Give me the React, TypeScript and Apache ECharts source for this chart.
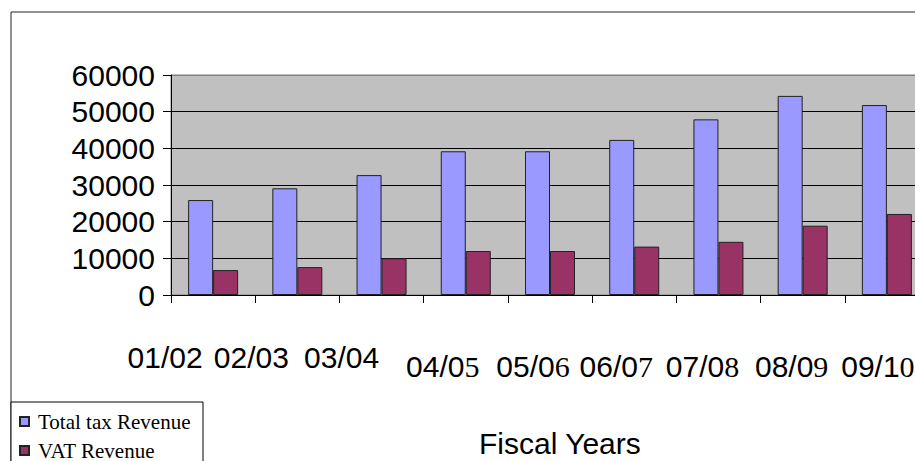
import React, { useEffect, useRef } from "react";
import * as echarts from "echarts";

// Fiscal years on the category axis
const fiscalYears = ["01/02", "02/03", "03/04", "04/05", "05/06", "06/07", "07/08", "08/09", "09/10"];

// Revenue series
const totalTaxRevenue = [25900, 29100, 32700, 39200, 39200, 42300, 47900, 54300, 51800];
const vatRevenue = [6800, 7600, 10000, 12000, 12000, 13200, 14500, 18900, 22100];

// Value axis ticks
const yTicks = [0, 10000, 20000, 30000, 40000, 50000, 60000];

// Label typesetting: horizontal pull to the left (px), drop below the first row (px),
// and how many trailing characters are set in the serif face.
const labelPull = [48, 46, 40, 23, 17, 18, 16, 11, 9];
const labelDrop = [0, 0, 0, 9, 9, 9, 9, 9, 9];
const serifTail = [0, 0, 0, 1, 1, 1, 1, 1, 1];

const SANS = "'Liberation Sans', Arial, sans-serif";
const SERIF = "'Liberation Serif', 'Times New Roman', serif";

export default function App() {
  const ref = useRef<HTMLDivElement>(null);

  useEffect(() => {
    if (!ref.current) return;
    const chart = echarts.init(ref.current, null, { renderer: "svg" });

    const rich: Record<string, any> = {};
    fiscalYears.forEach((_, i) => {
      const lh = 30 + 2 * labelDrop[i];
      rich["a" + i] = { fontFamily: SANS, fontSize: 30, color: "#000", lineHeight: lh };
      rich["b" + i] = { fontFamily: SERIF, fontSize: 30, color: "#000", lineHeight: lh };
      rich["p" + i] = { fontFamily: SANS, fontSize: 30, lineHeight: lh, width: 2 * labelPull[i] };
    });

    chart.setOption({
      animation: false,
      backgroundColor: "#fff",
      title: {
        text: "Fiscal Years",
        left: 474,
        top: 423,
        textStyle: { fontFamily: SANS, fontSize: 30, fontWeight: "normal", color: "#000" },
      },
      legend: {
        orient: "vertical",
        left: 11,
        top: 402,
        height: 300,
        padding: [9, 2, 0, 8],
        itemGap: 8,
        itemWidth: 9,
        itemHeight: 9,
        icon: "rect",
        textStyle: { fontFamily: SERIF, fontSize: 21, color: "#000", padding: [0, 0, 0, 4] },
        data: ["Total tax Revenue", "VAT Revenue"],
      },
      graphic: [
        {
          type: "rect",
          shape: { x: 11, y: 12, width: 1000, height: 600 },
          style: { fill: "none", stroke: "#222", lineWidth: 1 },
          z: -1,
          silent: true,
        },
        {
          type: "rect",
          shape: { x: 11, y: 402, width: 192, height: 100 },
          style: { fill: "#fff", stroke: "#000", lineWidth: 1 },
          z: -1,
          silent: true,
        },
      ],
      grid: {
        left: 171,
        top: 75,
        width: 758,
        height: 220,
        outerBoundsMode: "none",
        containLabel: false,
        show: true,
        backgroundColor: "#C0C0C0",
        borderColor: "#808080",
        borderWidth: 1,
      },
      xAxis: {
        type: "category",
        data: fiscalYears,
        boundaryGap: true,
        axisLine: { lineStyle: { color: "#000", width: 1 } },
        axisTick: { show: true, length: 8, interval: 0, lineStyle: { color: "#000" } },
        axisLabel: {
          interval: 0,
          margin: 47,
          rich,
          formatter: (value: string, index: number) => {
            const n = serifTail[index];
            const head = value.slice(0, value.length - n);
            const tail = value.slice(value.length - n);
            let s = "{a" + index + "|" + head + "}";
            if (n > 0) s += "{b" + index + "|" + tail + "}";
            s += "{p" + index + "| }";
            return s;
          },
        },
      },
      yAxis: {
        type: "value",
        min: yTicks[0],
        max: yTicks[yTicks.length - 1],
        interval: yTicks[1] - yTicks[0],
        axisLine: { show: true, lineStyle: { color: "#000", width: 1 } },
        axisTick: { show: true, length: 8, lineStyle: { color: "#000" } },
        axisLabel: {
          margin: 16,
          fontFamily: SANS,
          fontSize: 30,
          color: "#000",
          formatter: (v: number) => String(v),
        },
        splitLine: {
          show: true,
          lineStyle: {
            color: ["#000", "#000", "#000", "#000", "#000", "#000", "#808080"],
            width: 1,
          },
        },
      },
      series: [
        {
          name: "Total tax Revenue",
          type: "bar",
          data: totalTaxRevenue,
          barWidth: 25,
          barGap: "0%",
          itemStyle: { color: "#9999FF", borderColor: "#222", borderWidth: 1 },
        },
        {
          name: "VAT Revenue",
          type: "bar",
          data: vatRevenue,
          barWidth: 25,
          itemStyle: { color: "#993366", borderColor: "#222", borderWidth: 1 },
        },
      ],
    });

    return () => chart.dispose();
  }, []);

  return (
    <div
      ref={ref}
      style={{ position: "fixed", left: 0, top: 0, width: 915, height: 461 }}
    />
  );
}
